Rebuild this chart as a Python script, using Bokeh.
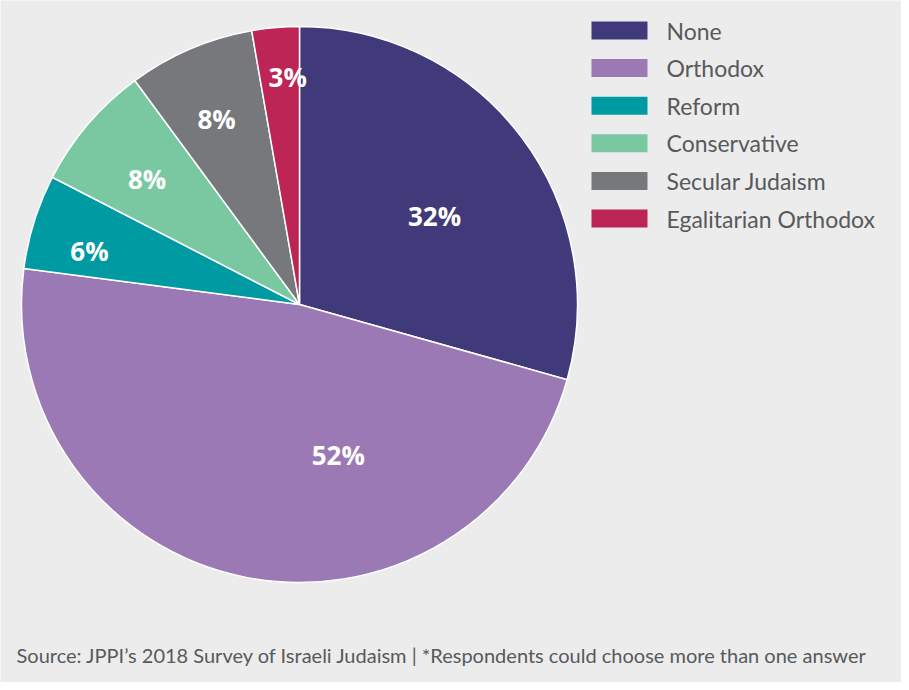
import math
from bokeh.plotting import figure
from bokeh.models import Range1d, ColumnDataSource
from bokeh.core.properties import value
from bokeh.embed import file_html
from bokeh.resources import INLINE

# ---- data ----
categories = ["None", "Orthodox", "Reform", "Conservative", "Secular Judaism", "Egalitarian Orthodox"]
percents = [32, 52, 6, 8, 8, 3]
colors = ["#403a7a", "#9b79b5", "#009aa3", "#79c8a2", "#77787b", "#bc2554"]
source_note = "Source:  JPPI\u2019s 2018 Survey of Israeli Judaism | *Respondents could choose more than one answer"

# ---- layout (pixel-based coordinates) ----
W, H = 901, 682
OFF = 8
def X(ix):
    return ix - OFF
def Y(iy):
    return H - (iy - OFF)

cx, cy, R = X(307), Y(312), 278
label_rfrac = [0.58, 0.56, 0.78, 0.71, 0.73, 0.82]
label_dangle = [4, -26, -3, -1, -1, 2]  # degrees, clockwise shift from mid-angle

total = float(sum(percents))
starts, ends, lx, ly, labels = [], [], [], [], []
cum = 0.0
for i, v in enumerate(percents):
    a0 = math.pi / 2 - cum / total * 2 * math.pi
    cum += v
    a1 = math.pi / 2 - cum / total * 2 * math.pi
    starts.append(a0)
    ends.append(a1)
    mid = (a0 + a1) / 2 - math.radians(label_dangle[i])
    r = R * label_rfrac[i]
    lx.append(cx + r * math.cos(mid))
    ly.append(cy + r * math.sin(mid))
    labels.append(f"{v}%")

src = ColumnDataSource(dict(start=starts, end=ends, color=colors, lx=lx, ly=ly, label=labels,
                            cat=categories))

p = figure(width=W, height=H, output_backend="svg", toolbar_location=None,
           x_range=Range1d(0, W), y_range=Range1d(0, H), min_border=0,
           background_fill_color="#ececec", border_fill_color="#ececec")
p.axis.visible = False
p.grid.visible = False
p.outline_line_color = None

p.wedge(x=cx, y=cy, radius=R, start_angle="start", end_angle="end", direction="clock",
        fill_color="color", line_color="white", line_width=1.5, source=src)

p.text(x="lx", y="ly", text="label", source=src, text_color="white",
       text_font=value("Open Sans"), text_font_style="bold", text_font_size="26px",
       text_align="center", text_baseline="middle")

# legend
leg_y0, leg_dy = 38, 37.6
leg_ys = [Y(leg_y0 + i * leg_dy) for i in range(len(categories))]
leg_src = ColumnDataSource(dict(y=leg_ys, color=colors, cat=categories))
p.rect(x=X(627), y="y", width=56, height=18, fill_color="color", line_color=None, source=leg_src)
p.text(x=X(674), y="y", text="cat", source=leg_src, text_color="#58595b",
       text_font=value("Lato"), text_font_size="23px", text_align="left",
       text_baseline="middle")

# footnote
p.text(x=[X(24)], y=[Y(662)], text=[source_note], text_color="#58595b",
       text_font=value("Lato"), text_font_size="20px", text_align="left",
       text_baseline="middle")

open("out.html", "w").write(file_html(p, INLINE))
